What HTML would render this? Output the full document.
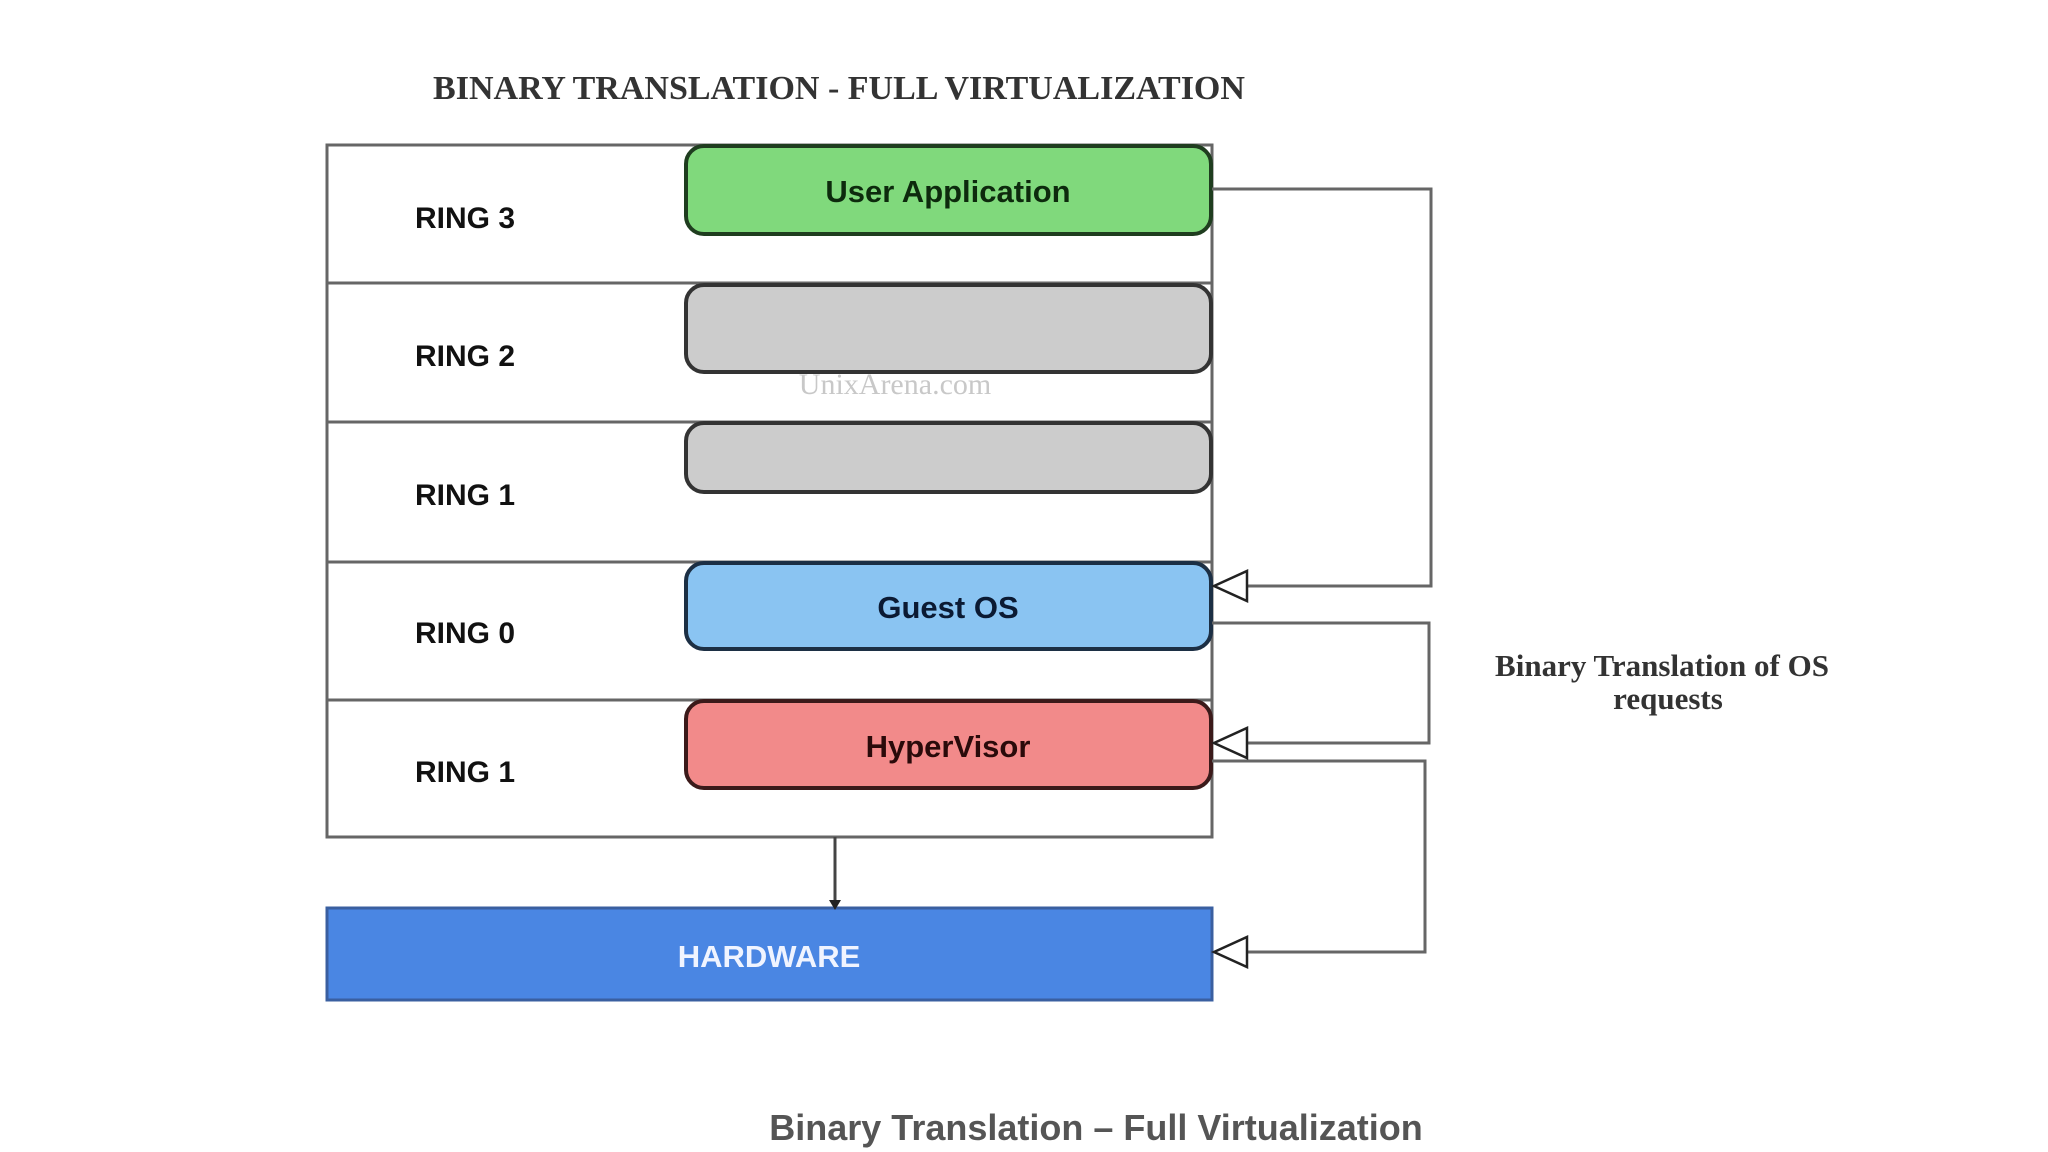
<!DOCTYPE html>
<html><head><meta charset="utf-8"><style>
body{margin:0;background:#fff;}
svg{display:block}
</style></head><body>
<svg width="2048" height="1152" viewBox="0 0 2048 1152" xmlns="http://www.w3.org/2000/svg">
<rect width="2048" height="1152" fill="#fff"/>
<text x="839" y="99" text-anchor="middle" font-family="Liberation Serif, serif" font-weight="bold" font-size="34" fill="#333">BINARY TRANSLATION - FULL VIRTUALIZATION</text>
<g stroke="#666" stroke-width="3" fill="none">
<rect x="327" y="145" width="885" height="692"/>
<line x1="327" y1="283" x2="1212" y2="283"/>
<line x1="327" y1="422" x2="1212" y2="422"/>
<line x1="327" y1="562" x2="1212" y2="562"/>
<line x1="327" y1="700" x2="1212" y2="700"/>
</g>
<g font-family="Liberation Sans, sans-serif" font-weight="bold" font-size="30" fill="#111">
<text x="415" y="228">RING 3</text>
<text x="415" y="366">RING 2</text>
<text x="415" y="505">RING 1</text>
<text x="415" y="643">RING 0</text>
<text x="415" y="782">RING 1</text>
</g>
<rect x="686" y="146" width="525" height="88" rx="18" fill="#80d97c" stroke="#1f3d1f" stroke-width="4"/>
<rect x="686" y="285" width="525" height="87" rx="18" fill="#cccccc" stroke="#333" stroke-width="4"/>
<rect x="686" y="423" width="525" height="69" rx="18" fill="#cccccc" stroke="#333" stroke-width="4"/>
<rect x="686" y="563" width="525" height="86" rx="18" fill="#8ac4f2" stroke="#1c2f44" stroke-width="4"/>
<rect x="686" y="701" width="525" height="87" rx="18" fill="#f28a8a" stroke="#3b1a1a" stroke-width="4"/>
<g font-family="Liberation Sans, sans-serif" font-weight="bold" font-size="31" text-anchor="middle">
<text x="948" y="202" fill="#0d2a0d">User Application</text>
<text x="948" y="618" fill="#0b1a33">Guest OS</text>
<text x="948" y="757" fill="#2a0a0a">HyperVisor</text>
</g>
<text x="895" y="394" text-anchor="middle" font-family="Liberation Serif, serif" font-size="30" fill="#c8c8c8">UnixArena.com</text>
<rect x="327" y="908" width="885" height="92" fill="#4a86e3" stroke="#3a5fa0" stroke-width="3"/>
<text x="769" y="967" text-anchor="middle" font-family="Liberation Sans, sans-serif" font-weight="bold" font-size="31" fill="#f0f4ff">HARDWARE</text>
<line x1="835" y1="837" x2="835" y2="900" stroke="#444" stroke-width="3"/>
<polygon points="829,900 841,900 835,910" fill="#222"/>
<g stroke="#666" stroke-width="3" fill="none">
<polyline points="1212,189 1431,189 1431,586 1246,586"/>
<polyline points="1212,623 1429,623 1429,743 1246,743"/>
<polyline points="1212,761 1425,761 1425,952 1246,952"/>
</g>
<g stroke="#222" stroke-width="2.5" fill="#fff">
<polygon points="1214,586 1247,571 1247,601"/>
<polygon points="1214,743 1247,728 1247,758"/>
<polygon points="1214,952 1247,937 1247,967"/>
</g>
<g font-family="Liberation Serif, serif" font-weight="bold" font-size="31" fill="#333" text-anchor="middle">
<text x="1662" y="676">Binary Translation of OS</text>
<text x="1668" y="709">requests</text>
</g>
<text x="1096" y="1140" text-anchor="middle" font-family="Liberation Sans, sans-serif" font-weight="bold" font-size="36" fill="#555">Binary Translation – Full Virtualization</text>
</svg>
</body></html>
